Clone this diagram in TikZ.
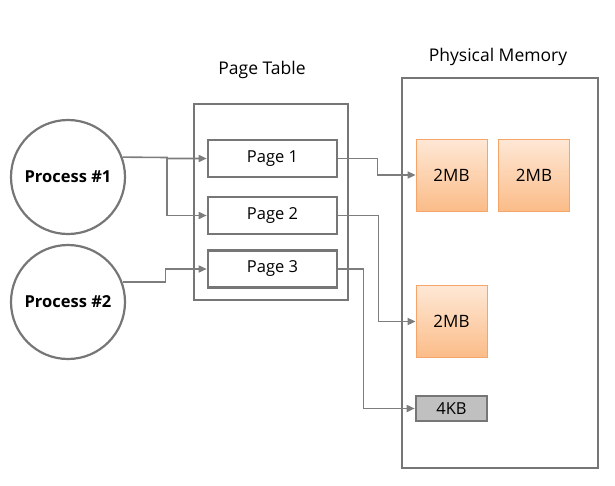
\documentclass[tikz,border=0pt]{standalone}
\usepackage{fontspec}
\setmainfont{Open Sans}
\usetikzlibrary{arrows.meta}
\definecolor{linegray}{RGB}{125,125,125}
\definecolor{boxgray}{RGB}{118,118,118}
\definecolor{memtop}{RGB}{254,232,214}
\definecolor{membot}{RGB}{251,188,136}
\definecolor{memline}{RGB}{245,165,105}
\definecolor{kbfill}{RGB}{192,192,192}

\begin{document}
\begin{tikzpicture}[x=1pt,y=-1pt,
    proc/.style={draw=boxgray, line width=2.2pt, circle, minimum size=114pt, inner sep=0pt, font=\fontsize{16.5}{18}\selectfont\bfseries},
    frame/.style={draw=boxgray, line width=2.4pt, rectangle, inner sep=0pt},
    pagebox/.style={draw=boxgray, line width=2.6pt, fill=white, rectangle, minimum width=129pt, minimum height=37pt, inner sep=0pt, font=\fontsize{16.5}{18}\selectfont},
    membox/.style={draw=memline, line width=0.8pt, top color=memtop, bottom color=membot, minimum width=71pt, minimum height=72pt, inner sep=0pt, font=\fontsize{17}{19}\selectfont},
    kbbox/.style={draw=boxgray, line width=2.6pt, fill=kbfill, minimum width=71pt, minimum height=25pt, inner sep=0pt, font=\fontsize{16.5}{18}\selectfont},
    title/.style={font=\fontsize{17.5}{19}\selectfont},
    link/.style={draw=linegray, line width=1.6pt, -{Triangle[length=8pt,width=7pt]}}]
    \useasboundingbox (0,0) rectangle (615,485);

    % Processes
    \node[proc] (proc1) at (68,177) {Process \#1};
    \node[proc] (proc2) at (68,302) {Process \#2};

    % Page table
    \node[frame, minimum width=154pt, minimum height=196pt] (table) at (271,202) {};
    \node[title] (tabletitle) at (262,70) {Page Table};

    % Physical memory
    \node[frame, minimum width=196pt, minimum height=390pt] (memory) at (500,273) {};
    \node[title] (memtitle) at (498,57) {Physical Memory};

    % Pages
    \node[pagebox] (page1) at (272.5,158.5) {Page 1};
    \node[pagebox] (page2) at (272.5,215.5) {Page 2};
    \node[pagebox] (page3) at (272.5,269) {Page 3};

    % Memory blocks
    \node[membox] (mem1) at (451.5,175) {2MB};
    \node[membox] (mem2) at (534,175) {2MB};
    \node[membox] (mem3) at (451.5,321.5) {2MB};
    \node[kbbox] (kb) at (451.5,408.5) {4KB};

    % Connectors
    \coordinate (split) at (167,157.5);
    \draw[link] (proc1.20) -- (split) |- (page1.west);
    \draw[link] (split) |- (page2.west);
    \draw[link] (proc2.20) -- ++(43,0) |- (page3.west);
    \draw[link] (page1.east) -- ++(39,0) |- (mem1.west);
    \draw[link] (page2.east) -- ++(40,0) |- (mem3.west);
    \draw[link] (page3.east) -- ++(25,0) |- (kb.west);
\end{tikzpicture}
\end{document}
